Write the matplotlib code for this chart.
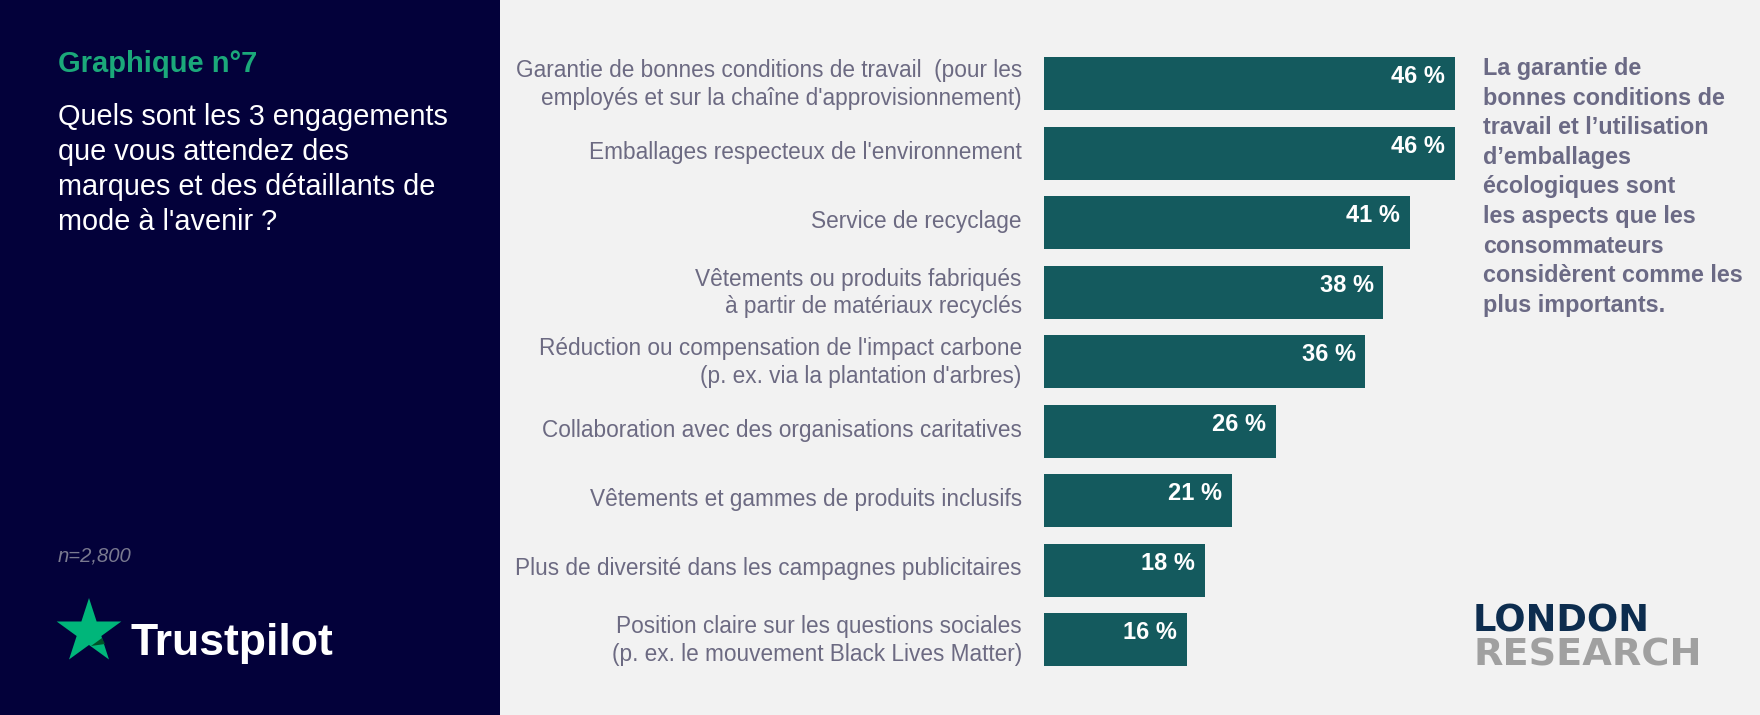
import numpy as np
import matplotlib
matplotlib.use("Agg")
import matplotlib.pyplot as plt
import matplotlib.transforms as mtransforms
from matplotlib.patches import Rectangle, Polygon

# DONNEES
categories = [
    "Garantie de bonnes conditions de travail  (pour les\nemployés et sur la chaîne d'approvisionnement)",
    "Emballages respecteux de l'environnement",
    "Service de recyclage",
    "Vêtements ou produits fabriqués\nà partir de matériaux recyclés",
    "Réduction ou compensation de l'impact carbone\n(p. ex. via la plantation d'arbres)",
    "Collaboration avec des organisations caritatives",
    "Vêtements et gammes de produits inclusifs",
    "Plus de diversité dans les campagnes publicitaires",
    "Position claire sur les questions sociales\n(p. ex. le mouvement Black Lives Matter)",
]
valeurs = [46, 46, 41, 38, 36, 26, 21, 18, 16]

titre = "Graphique n°7"
question = ["Quels sont les 3 engagements", "que vous attendez des",
            "marques et des détaillants de", "mode à l'avenir ?"]
note = "n=2,800"
commentaire = ["La garantie de", "bonnes conditions de", "travail et l\u2019utilisation",
               "d\u2019emballages", "écologiques sont", "les aspects que les",
               "consommateurs", "considèrent comme les", "plus importants."]

W, H = 1760, 715
FOND = "#f2f2f2"
NUIT = "#03013a"
VERT = "#1ba97a"
BARRE = "#145a5e"
GRIS = "#6c6a82"

plt.rcParams['font.family'] = ['Liberation Sans', 'DejaVu Sans']

fig = plt.figure(figsize=(W / 100, H / 100), dpi=100, facecolor=FOND)

def px(x, y):
    # coordonnees pixel (origine en haut a gauche) -> fraction de figure
    return x / W, 1 - y / H

# panneau gauche
fig.patches.append(Rectangle((0, 0), 500 / W, 1, transform=fig.transFigure,
                             facecolor=NUIT, edgecolor="none", zorder=0))

fig.text(*px(58, 72), titre, color=VERT, fontsize=21, fontweight="bold", va="baseline")
for k, ligne in enumerate(question):
    fig.text(*px(58, 125 + k * 35), ligne, color="white", fontsize=20.8, va="baseline")
fig.text(*px(58, 562), note, color="#7a7a90", fontsize=14.6, style="italic", va="baseline")

# logo Trustpilot (etoile + texte)
cx, cy, R = 89, 632, 34
ang = np.pi / 2 + np.arange(10) * np.pi / 5
rad = np.where(np.arange(10) % 2 == 0, R, R * 0.382)
pts = [px(cx + r * np.cos(a), cy - r * np.sin(a)) for r, a in zip(rad, ang)]
fig.patches.append(Polygon(pts, closed=True, transform=fig.transFigure,
                           facecolor="#00b67a", edgecolor="none", zorder=2))
ombre = [px(cx + 2, cy + 14), px(cx + 13, cy + 6), px(cx + 16, cy + 12)]
fig.patches.append(Polygon(ombre, closed=True, transform=fig.transFigure,
                           facecolor="#005128", edgecolor="none", zorder=3))
fig.text(*px(130, 655), "Trustpilot", color="white", fontsize=32, fontweight="bold",
         va="baseline")

# graphique a barres
pas = 69.5
haut = 83.5 - pas / 2
bas = 639.5 + pas / 2
ax = fig.add_axes([1044 / W, 1 - bas / H, 446.5 / W, (bas - haut) / H])
ax.set_facecolor("none")
y = np.arange(len(valeurs))
ax.barh(y, valeurs, height=53 / pas, color=BARRE)
ax.set_xlim(0, 50)
ax.set_ylim(len(valeurs) - 0.5, -0.5)
ax.set_yticks(y)
ax.set_yticklabels(categories, fontsize=16.3, color=GRIS, linespacing=1.25)
ax.tick_params(axis="y", length=0, pad=16)
ax.set_xticks([])
for s in ax.spines.values():
    s.set_visible(False)
# les libelles sont un peu au-dessus du centre des barres
decalage = mtransforms.ScaledTranslation(0, 3.5 / 100, fig.dpi_scale_trans)
for lab in ax.get_yticklabels():
    lab.set_transform(lab.get_transform() + decalage)
for i, v in enumerate(valeurs):
    ax.text(v - 1.1, i - 0.1, f"{v} %", ha="right", va="center", color="white",
            fontsize=17, fontweight="bold")

# commentaire a droite
for k, ligne in enumerate(commentaire):
    fig.text(*px(1483, 75 + k * 29.6), ligne, color="#6b6a85", fontsize=16.8,
             fontweight="bold", va="baseline")

# logo London Research
fig.text(*px(1473, 632), "LONDON", color="#0d2d4f", fontsize=26.5, fontweight="heavy",
         family="DejaVu Sans", va="baseline")
fig.text(*px(1473, 665), "RESEARCH", color="#a0a0a0", fontsize=27.5, fontweight="heavy",
         family="DejaVu Sans", va="baseline")

fig.savefig("out.png", dpi=100, facecolor=FOND)
